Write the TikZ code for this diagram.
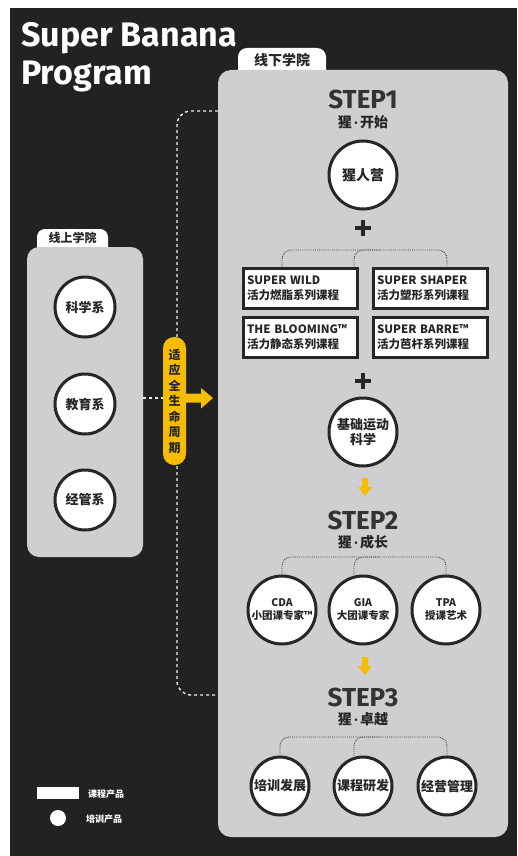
\documentclass[tikz,border=0pt]{standalone}
\usepackage{fontspec}
\setmainfont{Fira Sans}
\newfontfamily\cjk{Noto Sans CJK SC}
\usetikzlibrary{positioning}
\definecolor{bgdark}{HTML}{222222}
\definecolor{panel}{HTML}{CFCED0}
\definecolor{ink}{HTML}{262626}
\definecolor{stepgray}{HTML}{333333}
\definecolor{banana}{HTML}{F5BC00}
\newcommand{\stepdot}{{\rmfamily\bfseries\,·\,}}
\tikzset{
  circ/.style={circle, draw=ink, line width=3pt, fill=white, minimum size=68pt,
    inner sep=0pt, align=center, text=ink, font=\cjk\bfseries\fontsize{13}{15}\selectfont},
  leftcirc/.style={circ, minimum size=60pt},
  prodbox/.style={rectangle, draw=ink, line width=3pt, fill=white, minimum width=114pt,
    minimum height=40pt, inner sep=0pt, align=left, text width=106pt, text=ink,
    font=\cjk\bfseries\fontsize{11.5}{15}\selectfont},
  steptitle/.style={text=stepgray, font=\bfseries\fontsize{26}{26}\selectfont, inner sep=0pt},
  stepsub/.style={text=ink, font=\cjk\bfseries\fontsize{14}{14}\selectfont, inner sep=0pt},
  tabtext/.style={text=ink, font=\cjk\bfseries\fontsize{13}{13}\selectfont, inner sep=0pt},
  treeline/.style={densely dotted, draw=ink!85, line width=0.9pt, rounded corners=9pt},
  lifeline/.style={dash pattern=on 3pt off 3pt, draw=white!85!gray, line width=1.4pt, rounded corners=14pt},
  plusline/.style={draw=ink, line width=3.5pt},
  legendtext/.style={text=white, font=\cjk\bfseries\fontsize{9}{9}\selectfont, anchor=west, inner sep=0pt}
}
\begin{document}
\begin{tikzpicture}[x=1pt,y=-1pt]
\useasboundingbox (0,0) rectangle (517,856);
\fill[white] (0,0) rectangle (517,856);
\fill[bgdark] (10,8) rectangle (517,856);

% title
\node[anchor=base west, text=white, font=\bfseries\fontsize{34}{34}\selectfont, inner sep=0pt] (title1) at (21,47) {Super Banana};
\node[anchor=base west, text=white, font=\bfseries\fontsize{34}{34}\selectfont, inner sep=0pt] (title2) at (21,85) {Program};

% online academy
\fill[white, rounded corners=8pt] (37,229) rectangle (108,256);
\node[tabtext, font=\cjk\bfseries\fontsize{12}{12}\selectfont] (ontab) at (72.5,238) {线上学院};
\fill[panel, rounded corners=12pt] (27,247) rectangle (143,557);
\node[leftcirc] (sci) at (85,307) {科学系};
\node[leftcirc] (edu) at (85,404) {教育系};
\node[leftcirc] (mgt) at (85,500) {经管系};

% offline academy
\fill[white, rounded corners=9pt] (238,48) rectangle (326,80);
\node[tabtext, font=\cjk\bfseries\fontsize{14}{14}\selectfont] (offtab) at (282,60) {线下学院};
\fill[panel, rounded corners=13pt] (218,70) rectangle (508,837);

% life cycle line
\coordinate (lctop) at (218,111);
\coordinate (lcbot) at (218,695);
\coordinate (lcmid) at (177,398);
\draw[lifeline] (lctop) -| (lcmid) |- (lcbot);
\draw[lifeline, rounded corners=0pt] (143,398) -- (lcmid);
\node[fill=banana, rounded corners=11pt, minimum width=23pt, minimum height=128pt, inner sep=0pt,
  align=center, text=ink, font=\cjk\bfseries\fontsize{12}{15.5}\selectfont] (life) at (174.5,401)
  {适\\应\\全\\生\\命\\周\\期};
\fill[banana] (life.east |- 0,393.5) -- (201,393.5) -- (201,388) -- (213,398) -- (201,408.5) -- (201,402.5) -- (life.east |- 0,402.5) -- cycle;

% step 1
\node[steptitle] (s1) at (363,99) {STEP1};
\node[stepsub] (s1sub) at (363,122) {猩\stepdot 开始};
\node[circ, font=\cjk\bfseries\fontsize{14}{16}\selectfont] (camp) at (363,175) {猩人营};
\draw[plusline] (355,228) -- (371,228) (363,220) -- (363,236);
\node[prodbox] (wild) at (300,288) {\mbox{SUPER WILD}\\活力燃脂系列课程};
\node[prodbox] (shaper) at (430,288) {\mbox{SUPER SHAPER}\\活力塑形系列课程};
\node[prodbox] (bloom) at (300,337) {\mbox{THE BLOOMING™}\\活力静态系列课程};
\node[prodbox] (barre) at (430,337) {\mbox{SUPER BARRE™}\\活力芭杆系列课程};
\draw[treeline] ([xshift=-18pt]wild.north) |- (447,250) -- ([xshift=17pt]shaper.north);
\draw[treeline] ([xshift=-9pt]camp.south |- wild.north) |- (380,250);
\draw[plusline] (355,381) -- (371,381) (363,373) -- (363,389);
\node[circ] (basic) at (363,432) {基础运动\\科学};

% step 2
\foreach \ya in {478,657}
  \fill[banana] (362,\ya) -- ++(6,0) -- ++(0,9) -- ++(4,0) -- ++(-7,9) -- ++(-7,-9) -- ++(4,0) -- cycle;
\node[steptitle] (s2) at (363,520) {STEP2};
\node[stepsub] (s2sub) at (363,542) {猩\stepdot 成长};
\node[circ, font=\cjk\bfseries\fontsize{10.5}{13}\selectfont] (cda) at (282,610) {CDA\\小团课专家™};
\node[circ, font=\cjk\bfseries\fontsize{10.5}{13}\selectfont] (gia) at (363,610) {GIA\\大团课专家};
\node[circ, font=\cjk\bfseries\fontsize{10.5}{13}\selectfont] (tpa) at (446,610) {TPA\\授课艺术};
\draw[treeline] (cda.north) |- (446,557) -- (tpa.north);
\draw[treeline] ([xshift=-9pt]gia.north) |- (380,557);

% step 3
\node[steptitle] (s3) at (363,697) {STEP3};
\node[stepsub] (s3sub) at (363,719) {猩\stepdot 卓越};
\node[circ, minimum size=58pt] (dev) at (280,786) {培训发展};
\node[circ, minimum size=58pt] (rnd) at (363,786) {课程研发};
\node[circ, minimum size=58pt] (ops) at (447,786) {经营管理};
\draw[treeline] (dev.north) |- (447,737) -- (ops.north);
\draw[treeline] ([xshift=-9pt]rnd.north) |- (380,737);

% legend
\node[fill=white, minimum width=42pt, minimum height=12pt, inner sep=0pt] (legbox) at (58,793) {};
\node[legendtext] (legboxtext) at (88,794) {课程产品};
\node[circle, fill=white, minimum size=16pt, inner sep=0pt] (legcirc) at (58,818) {};
\node[legendtext] (legcirctext) at (86,819) {培训产品};
\end{tikzpicture}
\end{document}
